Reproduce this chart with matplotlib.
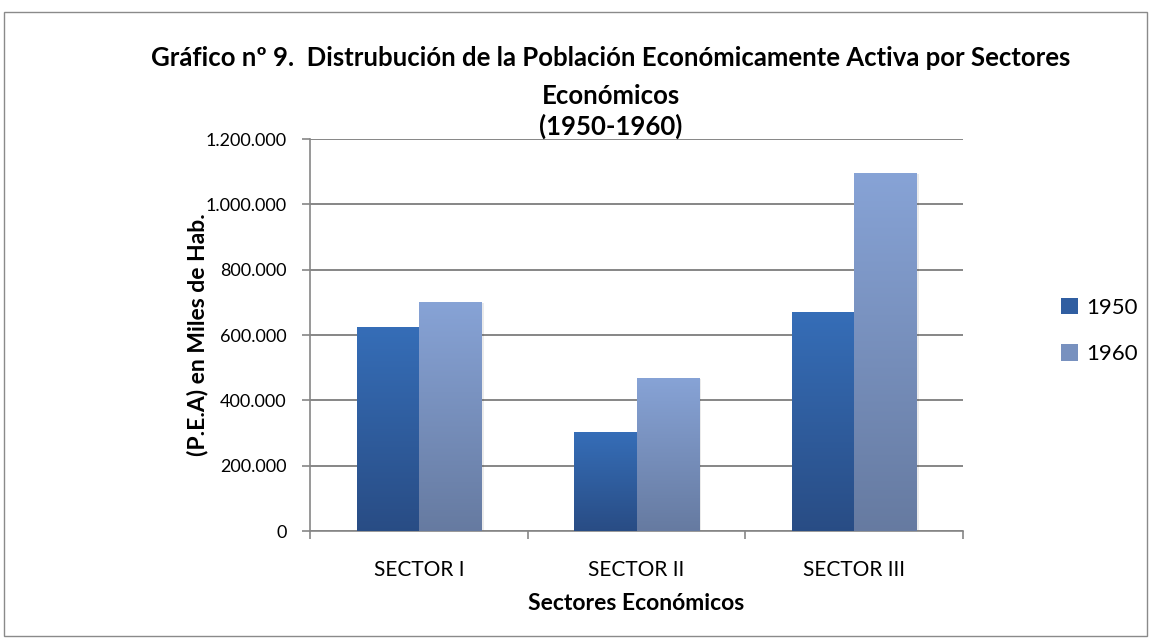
import matplotlib
matplotlib.use("Agg")
import matplotlib.pyplot as plt
import numpy as np
from matplotlib.patches import Rectangle, Patch
from matplotlib.colors import LinearSegmentedColormap
from matplotlib.ticker import FuncFormatter

categories = ["SECTOR I", "SECTOR II", "SECTOR III"]
series_names = ["1950", "1960"]
values_1950 = [626000, 303000, 669000]
values_1960 = [702000, 469000, 1096000]
yticks = [0, 200000, 400000, 600000, 800000, 1000000, 1200000]

title_lines = ["Gráfico nº 9.  Distrubución de la Población Económicamente Activa por Sectores",
               "Económicos",
               "(1950-1960)"]
xlabel = "Sectores Económicos"
ylabel = "(P.E.A) en Miles de Hab."

FONT = ["Lato", "DejaVu Sans"]
plt.rcParams['font.family'] = FONT

W, H = 1150, 644
fig = plt.figure(figsize=(W / 100, H / 100), dpi=100)

# outer border
fig.patches.append(Rectangle((4 / W, 8 / H), 1143 / W, 624 / H, transform=fig.transFigure,
                             fill=False, edgecolor="#8a8a8a", linewidth=1.0))

ax = fig.add_axes([310 / W, 1 - 531 / H, (963 - 310) / W, (531 - 139) / H])

x = np.arange(len(categories))
bw = 1 / 3.5
grad_top = [(0.21, 0.43, 0.72), (0.53, 0.64, 0.84)]
grad_bot = [(0.16, 0.30, 0.52), (0.40, 0.48, 0.63)]

for i, vals in enumerate([values_1950, values_1960]):
    bars = ax.bar(x + (i - 0.5) * bw, vals, width=bw, color=grad_top[i], label=series_names[i],
                  zorder=3, linewidth=0)
    cmap = LinearSegmentedColormap.from_list("g%d" % i, [grad_bot[i], grad_top[i]])
    for b in bars:
        bx = b.get_x()
        bwid, bh = b.get_width(), b.get_height()
        ax.add_patch(Rectangle((bx + 0.012, 0), bwid, bh - 4000, facecolor="#000000", alpha=0.08,
                               zorder=2, linewidth=0))
        grad = np.linspace(0, 1, 256).reshape(-1, 1)
        im = ax.imshow(grad, cmap=cmap, origin="lower", aspect="auto",
                       extent=(bx, bx + bwid, 0, bh), zorder=4)
        im.set_clip_path(b)

ax.set_xlim(-0.5, 2.5)
ax.set_ylim(0, 1200000)
ax.set_yticks(yticks)
ax.yaxis.set_major_formatter(FuncFormatter(lambda v, p: "{:,.0f}".format(v).replace(",", ".")))
ax.set_xticks(x)
ax.set_xticklabels(categories)
ax.set_xticks([-0.5, 0.5, 1.5, 2.5], minor=True)
ax.tick_params(axis="x", which="major", length=0, labelsize=15, pad=21)
ax.tick_params(axis="x", which="minor", length=6, width=1.2, color="#868686")
ax.tick_params(axis="y", length=6, width=1.2, color="#868686", labelsize=13, pad=11)

ax.grid(axis="y", color="#868686", linewidth=1.4, zorder=0)
ax.set_axisbelow(True)
for s in ["top", "right"]:
    ax.spines[s].set_visible(False)
for s in ["left", "bottom"]:
    ax.spines[s].set_color("#868686")
    ax.spines[s].set_linewidth(1.2)

ax.set_xlabel(xlabel, fontsize=16.5, fontweight="bold", labelpad=9)
ax.set_ylabel(ylabel, fontsize=16.5, fontweight="bold", va="center")
ax.yaxis.set_label_coords((197 - 310) / 653, 0.5)

tx = 0.5 * (130 + 1092) / W
for txt, yb in zip(title_lines, [66, 104, 135]):
    fig.text(tx, 1 - yb / H, txt, ha="center", va="baseline", fontsize=18.5, fontweight="bold")

handles = [Patch(facecolor=(0.19, 0.37, 0.63), label="1950"),
           Patch(facecolor=(0.47, 0.57, 0.75), label="1960")]
fig.legend(handles=handles, loc="center left", bbox_to_anchor=(1061 / W, 1 - 331 / H),
           frameon=False, fontsize=16, handlelength=0.75, handleheight=0.75,
           labelspacing=1.2, handletextpad=0.4, borderpad=0, borderaxespad=0)

fig.savefig("out.png", dpi=100)
